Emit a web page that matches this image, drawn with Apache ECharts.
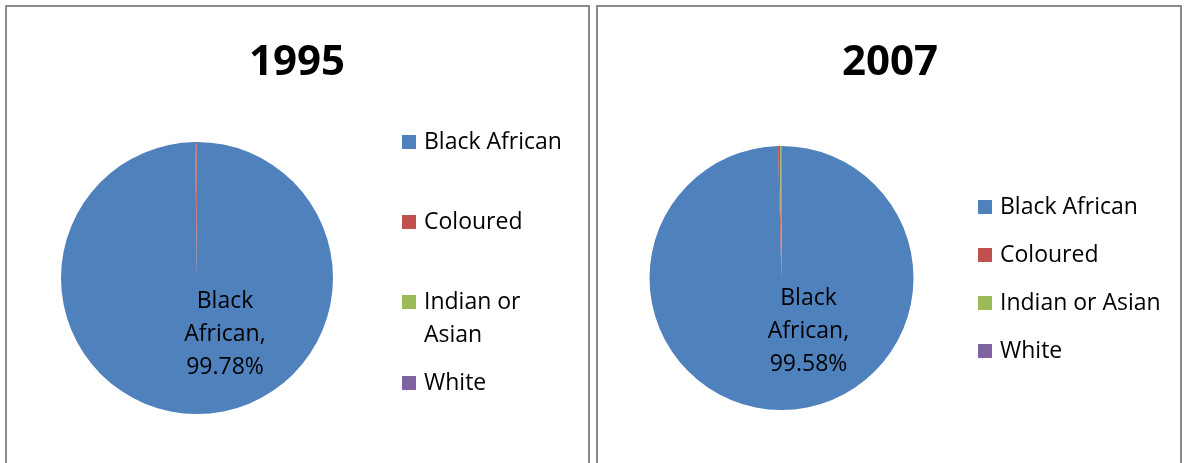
<!DOCTYPE html>
<html>
<head>
<meta charset="utf-8">
<script src="https://cdn.jsdelivr.net/npm/echarts@6/dist/echarts.min.js"></script>
<style>html,body{margin:0;padding:0;background:#fff}#c{width:1184px;height:463px}</style>
</head>
<body>
<div id="c"></div>
<script>
const categories = ['Black African', 'Coloured', 'Indian or Asian', 'White'];
const years = ['1995', '2007'];
const values1995 = [99.78, 0.18, 0.02, 0.02];
const values2007 = [99.58, 0.24, 0.10, 0.08];
const colors = ['#4F81BD', '#C0504D', '#9BBB59', '#8064A2'];

const FONT = 'Open Sans';
const chart = echarts.init(document.getElementById('c'), null, {renderer: 'canvas'});

function makeData(vals) {
  return categories.map((c, i) => ({
    name: c, value: vals[i], itemStyle: {color: colors[i]},
    label: {show: i === 0}
  }));
}

function pieSeries(vals, center, radius, dx, dy) {
  return {
    type: 'pie',
    center: center,
    radius: radius,
    startAngle: 90,
    clockwise: true,
    avoidLabelOverlap: false,
    silent: true,
    itemStyle: {borderWidth: 0},
    label: {
      show: false,
      position: 'center',
      formatter: p => p.name.replace(' ', '\n') + ',\n' + p.value.toFixed(2) + '%',
      fontFamily: FONT,
      fontSize: 23,
      lineHeight: 33,
      color: '#000'
    },
    labelLayout: {dx: dx, dy: dy},
    labelLine: {show: false},
    emphasis: {disabled: true},
    data: makeData(vals)
  };
}

function legendItem(name, left, centerY, multi) {
  const lh = 33;
  const lg = {
    data: [name],
    left: left,
    top: centerY - lh / 2,
    padding: 0,
    itemWidth: 14,
    itemHeight: 14,
    icon: 'rect',
    selectedMode: false,
    textStyle: {fontFamily: FONT, fontSize: 23, lineHeight: lh, color: '#000', padding: [0, 0, 0, 3]}
  };
  if (multi) {
    lg.formatter = n => ' \nIndian or\nAsian';
    lg.top = centerY - lh * 1.5;
  }
  return lg;
}

const leftLegendY = [142, 222, 302, 383];
const rightLegendY = [207, 255, 303, 351];

const legends = [];
categories.forEach((c, i) => legends.push(legendItem(c, 402, leftLegendY[i], i === 2)));
categories.forEach((c, i) => legends.push(legendItem(c, 978, rightLegendY[i], false)));

chart.setOption({
  animation: false,
  title: [
    {text: years[0], left: 292, top: 58, textAlign: 'center', textVerticalAlign: 'middle',
     textStyle: {fontFamily: FONT, fontWeight: 'bold', fontSize: 42, color: '#000'}},
    {text: years[1], left: 885, top: 58, textAlign: 'center', textVerticalAlign: 'middle',
     textStyle: {fontFamily: FONT, fontWeight: 'bold', fontSize: 42, color: '#000'}}
  ],
  legend: legends,
  graphic: [
    {type: 'rect', shape: {x: 6, y: 6, width: 583, height: 470}, style: {fill: 'none', stroke: '#8a8a8a', lineWidth: 2}, silent: true},
    {type: 'rect', shape: {x: 597, y: 6, width: 584, height: 470}, style: {fill: 'none', stroke: '#8a8a8a', lineWidth: 2}, silent: true}
  ],
  series: [
    pieSeries(values1995, [197, 278], 136, 28, 56),
    pieSeries(values2007, [781.5, 278], 132, 27, 53)
  ]
});
</script>
</body>
</html>
